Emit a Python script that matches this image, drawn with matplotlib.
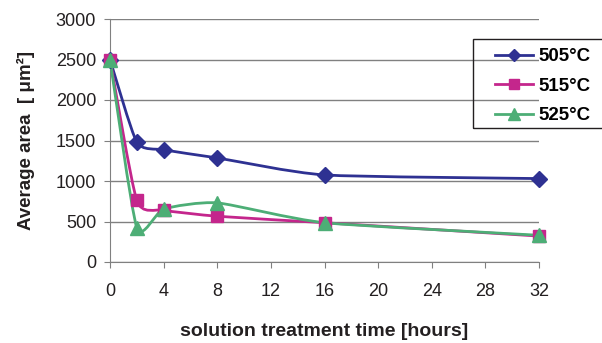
import numpy as np
import matplotlib
matplotlib.use("Agg")
import matplotlib.pyplot as plt
from matplotlib.path import Path
from matplotlib.patches import PathPatch, Rectangle
from matplotlib.lines import Line2D

plt.rcParams['font.family'] = ['Liberation Sans', 'DejaVu Sans']

# tiempo de tratamiento (horas) y área media (µm²)
tiempo = [0, 2, 4, 8, 16, 32]
area_505 = [2500, 1480, 1385, 1285, 1075, 1030]
area_515 = [2500, 760, 640, 565, 485, 320]
area_525 = [2500, 425, 655, 730, 485, 330]
etiquetas = ["505°C", "515°C", "525°C"]

colores = ['#2E3192', '#C4268C', '#4DAE76']
marcadores = ['D', 's', '^']
tamanos = [8, 9, 10]


def curva_suave(ax, x, y, color, k=10.0):
    # Curva tipo "línea suavizada" (Catmull-Rom en Bézier, tensión suave)
    pts = np.column_stack([x, y]).astype(float)
    ext = np.vstack([pts[0], pts, pts[-1]])
    verts = [tuple(pts[0])]
    codes = [Path.MOVETO]
    for i in range(1, len(ext) - 2):
        p0, p1, p2, p3 = ext[i - 1], ext[i], ext[i + 1], ext[i + 2]
        c1 = p1 + (p2 - p0) / k
        c2 = p2 - (p3 - p1) / k
        verts += [tuple(c1), tuple(c2), tuple(p2)]
        codes += [Path.CURVE4] * 3
    patch = PathPatch(Path(verts, codes), facecolor='none', edgecolor=color,
                      lw=2, zorder=3, capstyle='round', joinstyle='round')
    ax.add_patch(patch)


fig = plt.figure(figsize=(6.02, 3.43), dpi=100)
ax = fig.add_axes([110 / 602, 1 - 262 / 343, 429 / 602, 243 / 343])

series = [area_505, area_515, area_525]
for datos, c, m, s in zip(series, colores, marcadores, tamanos):
    curva_suave(ax, tiempo, datos, c)
    ax.plot(tiempo, datos, linestyle='none', marker=m, color=c,
            markersize=s, zorder=4, clip_on=False)

ax.set_xlim(0, 32)
ax.set_ylim(0, 3000)
ax.set_xticks(np.arange(0, 33, 4))
ax.set_yticks(np.arange(0, 3001, 500))
ax.grid(axis='y', color='#808080', lw=1)
ax.set_axisbelow(True)

for lado in ['top', 'right']:
    ax.spines[lado].set_visible(False)
for lado in ['left', 'bottom']:
    ax.spines[lado].set_color('#808080')
ax.tick_params(axis='both', color='#808080', length=4, labelsize=13,
               labelcolor='#231F20')
ax.tick_params(axis='x', pad=11)
ax.tick_params(axis='y', pad=6)

ax.set_xlabel("solution treatment time [hours]", fontsize=14,
              fontweight='bold', color='#231F20', labelpad=17)
ax.set_ylabel("Average area  [ μm²]", fontsize=13.5,
              fontweight='bold', color='#231F20', labelpad=15)

# marco de la leyenda (se sale por la derecha, como en el original)
fig.patches.append(Rectangle((473 / 602, 1 - 128 / 343), 140 / 602, 89 / 343,
                             transform=fig.transFigure, fill=False,
                             edgecolor='#231F20', lw=1, zorder=5))

manijas = [Line2D([], [], color=c, marker=m, markersize=s - 2, lw=2)
           for c, m, s in zip(colores, marcadores, tamanos)]
leg = fig.legend(manijas, etiquetas, loc='upper left',
                 bbox_to_anchor=(495 / 602, 1 - 48 / 343),
                 frameon=False, borderpad=0, borderaxespad=0,
                 prop={'weight': 'bold', 'size': 13.5},
                 handlelength=2.0, handletextpad=0.3, labelspacing=0.66)

fig.savefig("out.png", dpi=100)
